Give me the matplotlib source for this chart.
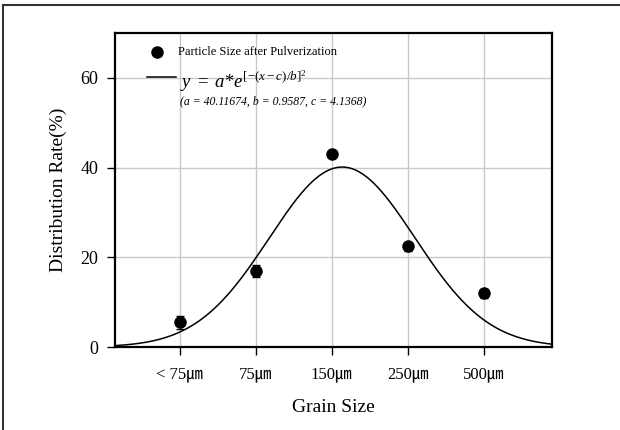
import numpy as np
import matplotlib
matplotlib.use("Agg")
import matplotlib.pyplot as plt
from matplotlib.lines import Line2D

plt.rcParams['font.family'] = ['Liberation Serif', 'DejaVu Serif']
plt.rcParams['mathtext.fontset'] = 'custom'
plt.rcParams['mathtext.rm'] = 'Liberation Serif'
plt.rcParams['mathtext.it'] = 'Liberation Serif:italic'

categories = ["< 75㎛", "75㎛", "150㎛", "250㎛", "500㎛"]
x_pos = [2, 3, 4, 5, 6]
values = [5.5, 17.0, 43.0, 22.5, 12.0]
errors = [1.5, 1.3, 0.6, 1.0, 1.0]
fit_a, fit_b, fit_c = 40.11674, 0.9587, 4.1368
x_range = (1.145, 6.9)

fig = plt.figure(figsize=(6.2, 4.3), dpi=100)
ax = fig.add_axes([115/620, 1-347/430, (552-115)/620, (347-33)/430])

xx = np.linspace(x_range[0], x_range[1], 400)
yy = fit_a * np.exp(-0.5 * ((xx - fit_c) / fit_b) ** 2)
ax.plot(xx, yy, color='black', lw=1.1, zorder=3)
ax.errorbar(x_pos, values, yerr=errors, fmt='o', color='black', ms=8,
            ecolor='black', elinewidth=1, capsize=3, zorder=4)

ax.set_xlim(*x_range)
ax.set_ylim(0, 70)
ax.set_xticks(x_pos)
ax.set_xticklabels(categories, fontsize=12, family=['Liberation Serif', 'Noto Sans CJK KR', 'DejaVu Sans'])
ax.set_yticks([0, 20, 40, 60])
ax.tick_params(axis='y', labelsize=13, direction='out', length=6, width=1, pad=6)
ax.tick_params(axis='x', direction='out', length=6, width=1, pad=8)
ax.grid(True, color='#c8c8c8', lw=1)
ax.set_axisbelow(True)
for s in ax.spines.values():
    s.set_linewidth(1.6)
ax.set_xlabel("Grain Size", fontsize=14, labelpad=12)
ax.set_ylabel("Distribution Rate(%)", fontsize=14, labelpad=10)

# legend
ax.add_line(Line2D([0.096], [0.94], transform=ax.transAxes, marker='o', ms=8,
                   color='black', ls='none'))
ax.text(0.144, 0.94, "Particle Size after Pulverization", transform=ax.transAxes,
        fontsize=9, va='center', ha='left')
ax.add_line(Line2D([0.073, 0.139], [0.86, 0.86], transform=ax.transAxes,
                   color='black', lw=1.1))
ax.text(0.148, 0.825, r"$y\ =\ a{*}e^{[-(x-c)/b]^{2}}$",
        transform=ax.transAxes, fontsize=13.5, va='baseline', ha='left')
ax.text(0.148, 0.782, "(a = 40.11674, b = 0.9587, c = 4.1368)", transform=ax.transAxes,
        fontsize=8.5, style='italic', va='center', ha='left')

# figure border (left and top)
fig.add_artist(Line2D([3/620, 3/620], [0, 1-5/430], transform=fig.transFigure, color='#333333', lw=1.5))
fig.add_artist(Line2D([3/620, 1], [1-5/430, 1-5/430], transform=fig.transFigure, color='#333333', lw=1.5))

fig.savefig("out.png", dpi=100)
